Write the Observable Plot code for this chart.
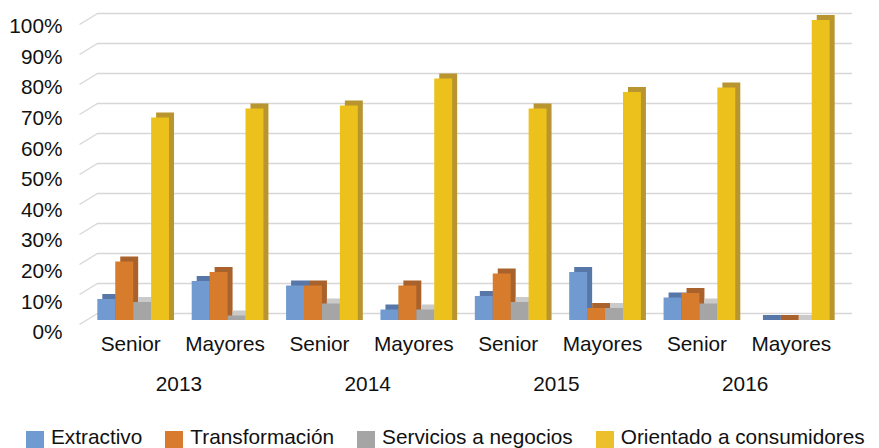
<!DOCTYPE html>
<html>
<head>
<meta charset="utf-8">
<script src="https://cdn.jsdelivr.net/npm/d3@7"></script>
<script src="https://cdn.jsdelivr.net/npm/@observablehq/plot@0.6"></script>
<style>
  html, body { margin: 0; padding: 0; background: #fff; overflow: hidden; }
  body { width: 879px; height: 448px; font-family: "Liberation Sans", Arial, Helvetica, sans-serif; }
  #legend { display: flex; align-items: flex-start; padding-left: 26px; padding-top: 16px; gap: 23px; font-size: 20.8px; color: #111; line-height: 22px; height: 22px; }
  #legend .item { display: flex; align-items: flex-start; gap: 7px; white-space: nowrap; }
  #legend .sw { width: 18px; height: 18px; display: inline-block; margin-top: 5px; }
</style>
</head>
<body>
<div id="chart"></div>
<div id="legend"></div>
<script>
// ---- data ----
const categories = ["Senior", "Mayores", "Senior", "Mayores", "Senior", "Mayores", "Senior", "Mayores"];
const years = ["2013", "2014", "2015", "2016"];
const seriesNames = ["Extractivo", "Transformación", "Servicios a negocios", "Orientado a consumidores"];
const extractivo     = [7, 13, 11.5, 3.5, 8, 16, 7.5, 0];
const transformacion = [19.5, 16, 11.5, 11.5, 15.5, 4, 9, 0];
const servicios      = [6, 1.5, 5.5, 3.5, 6, 4, 5.5, 0];
const orientado      = [67.5, 70.5, 71.5, 80.5, 70.5, 76, 77.5, 100];
const yTicks = [0, 10, 20, 30, 40, 50, 60, 70, 80, 90, 100];

// ---- styling ----
const frontColors = ["#709ad0", "#d77c2c", "#a5a5a5", "#ecc11c"];
const shadeColors = ["#5677a7", "#a9622b", "#cacaca", "#b8952f"];
const legendColors = ["#6f9bd0", "#d87b2e", "#a5a5a5", "#ecbf2c"];

const seriesValues = [extractivo, transformacion, servicios, orientado];
const barW = 0.19, groupOffset = (1 - barW * 4) / 2;
const rows = [];
categories.forEach((c, i) => {
  seriesValues.forEach((vals, j) => {
    rows.push({slot: i, s: j, value: vals[i], x1: i + groupOffset + j * barW, x2: i + groupOffset + (j + 1) * barW});
  });
});
const slots = categories.map((c, i) => ({i, label: c}));
const yearRows = years.map((y, k) => ({k, label: y}));

const chart = Plot.plot({
  width: 879,
  height: 410,
  marginLeft: 86,
  marginRight: 38,
  marginTop: 20,
  marginBottom: 90,
  style: {fontFamily: "'Liberation Sans', Arial, Helvetica, sans-serif", fontSize: "20.8px", background: "white", color: "#111"},
  x: {domain: [0, 8], axis: null},
  y: {domain: [0, 100], axis: null},
  marks: [
    // back-wall gridlines
    Plot.ruleY(yTicks, {y: d => d, dx: 11, dy: -7, stroke: "#d7d7d7", strokeWidth: 1.4}),
    // left-wall diagonals
    Plot.link(yTicks, {x1: 0, y1: d => d, x2: 0.19, y2: d => d + 3.67, dx: -7, dy: 4, stroke: "#d7d7d7", strokeWidth: 1.4}),
    // 3D shade (top + side)
    Plot.rect(rows, {x1: "x1", x2: "x2", y1: 0, y2: "value", dx: 5, insetTop: -5, fill: d => shadeColors[d.s]}),
    // front faces
    Plot.rect(rows, {x1: "x1", x2: "x2", y1: 0, y2: "value", fill: d => frontColors[d.s]}),
    // y tick labels
    Plot.text(yTicks, {y: d => 1.02 * d - 4, text: d => d + "%", frameAnchor: "left", textAnchor: "end", dx: -24, fill: "#111"}),
    // category labels
    Plot.text(slots, {x: d => d.i + 0.5, text: "label", frameAnchor: "bottom", dy: 30, dx: -3, fill: "#111"}),
    // year labels
    Plot.text(yearRows, {x: d => d.k * 2 + 1, text: "label", frameAnchor: "bottom", dy: 70, dx: -2, fill: "#111"})
  ]
});
document.getElementById("chart").appendChild(chart);

const legend = document.getElementById("legend");
seriesNames.forEach((name, j) => {
  const item = document.createElement("span");
  item.className = "item";
  const sw = document.createElement("span");
  sw.className = "sw";
  sw.style.background = legendColors[j];
  const t = document.createElement("span");
  t.textContent = name;
  item.appendChild(sw);
  item.appendChild(t);
  legend.appendChild(item);
});
</script>
</body>
</html>
